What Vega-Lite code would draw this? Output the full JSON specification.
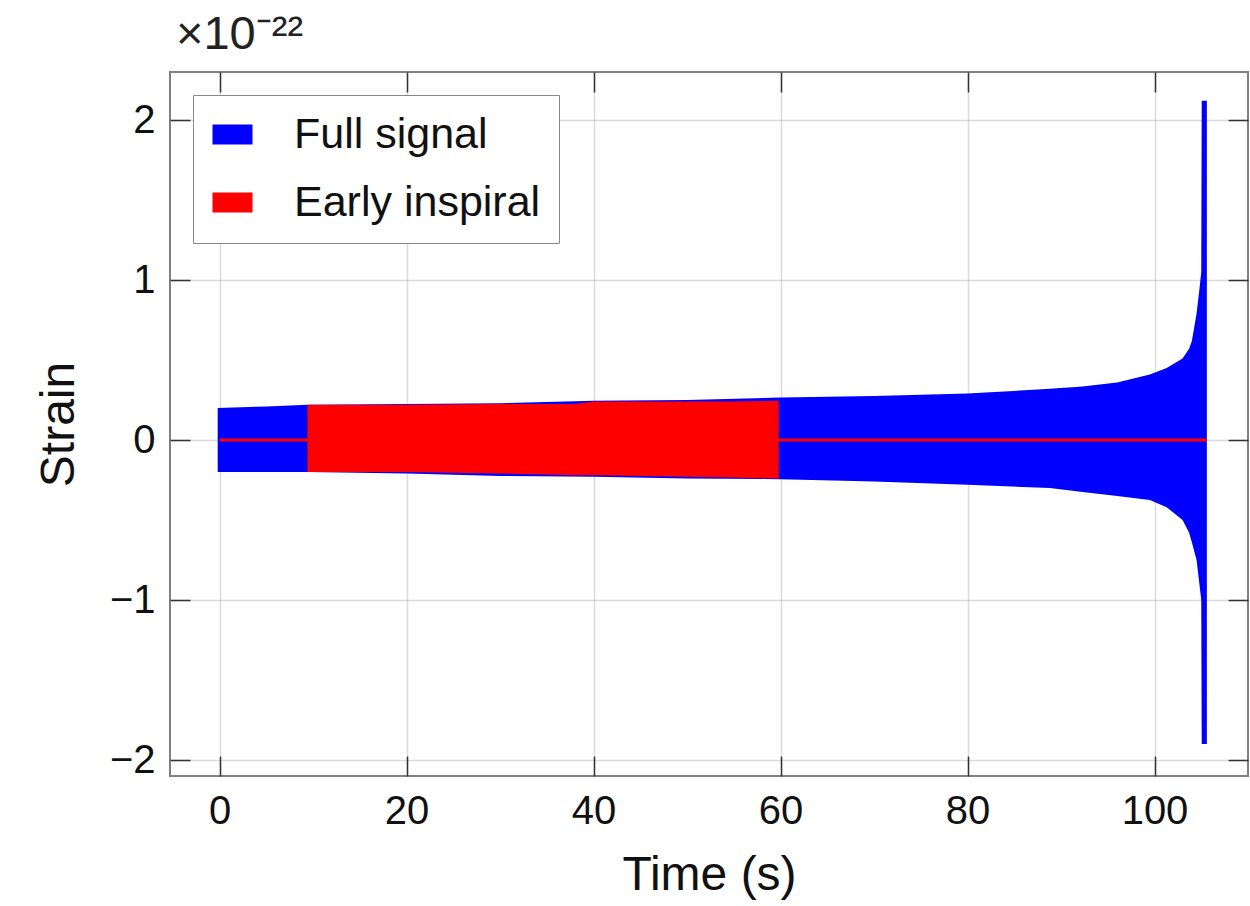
{
  "$schema": "https://vega.github.io/schema/vega-lite/v6.json",
  "width": 1078,
  "height": 704,
  "autosize": "none",
  "padding": {"left": 170, "top": 72, "right": 2, "bottom": 130},
  "background": "white",
  "title": {"text": "×10⁻²²", "anchor": "start", "frame": "group", "fontSize": 47, "font": "Liberation Sans", "fontWeight": "normal", "offset": 12, "dx": 6, "color": "#222"},
  "datasets": {
    "full": [
      {"t": -0.2, "hi": 0.2, "lo": -0.2, "series": "Full signal"},
      {"t": 5, "hi": 0.21, "lo": -0.2, "series": "Full signal"},
      {"t": 9.4, "hi": 0.22, "lo": -0.2, "series": "Full signal"},
      {"t": 20, "hi": 0.225, "lo": -0.21, "series": "Full signal"},
      {"t": 30, "hi": 0.23, "lo": -0.225, "series": "Full signal"},
      {"t": 40, "hi": 0.245, "lo": -0.23, "series": "Full signal"},
      {"t": 50, "hi": 0.25, "lo": -0.24, "series": "Full signal"},
      {"t": 60, "hi": 0.265, "lo": -0.245, "series": "Full signal"},
      {"t": 70, "hi": 0.275, "lo": -0.26, "series": "Full signal"},
      {"t": 80, "hi": 0.29, "lo": -0.28, "series": "Full signal"},
      {"t": 88.8, "hi": 0.32, "lo": -0.3, "series": "Full signal"},
      {"t": 92.3, "hi": 0.335, "lo": -0.325, "series": "Full signal"},
      {"t": 96, "hi": 0.36, "lo": -0.35, "series": "Full signal"},
      {"t": 99.5, "hi": 0.41, "lo": -0.375, "series": "Full signal"},
      {"t": 101.3, "hi": 0.45, "lo": -0.42, "series": "Full signal"},
      {"t": 103, "hi": 0.51, "lo": -0.5, "series": "Full signal"},
      {"t": 103.7, "hi": 0.57, "lo": -0.58, "series": "Full signal"},
      {"t": 104.0, "hi": 0.62, "lo": -0.64, "series": "Full signal"},
      {"t": 104.5, "hi": 0.79, "lo": -0.75, "series": "Full signal"},
      {"t": 104.8, "hi": 0.94, "lo": -0.9, "series": "Full signal"},
      {"t": 105.0, "hi": 1.05, "lo": -1.0, "series": "Full signal"},
      {"t": 105.05, "hi": 2.12, "lo": -1.9, "series": "Full signal"},
      {"t": 105.6, "hi": 2.12, "lo": -1.9, "series": "Full signal"}
    ],
    "early": [
      {"t": 9.4, "hi": 0.22, "lo": -0.2, "series": "Early inspiral"},
      {"t": 20, "hi": 0.22, "lo": -0.2, "series": "Early inspiral"},
      {"t": 29.7, "hi": 0.225, "lo": -0.21, "series": "Early inspiral"},
      {"t": 38, "hi": 0.225, "lo": -0.22, "series": "Early inspiral"},
      {"t": 40, "hi": 0.24, "lo": -0.22, "series": "Early inspiral"},
      {"t": 54.5, "hi": 0.24, "lo": -0.235, "series": "Early inspiral"},
      {"t": 59.8, "hi": 0.245, "lo": -0.24, "series": "Early inspiral"}
    ],
    "zeroline": [
      {"t0": 0, "t1": 105.6, "h": 0}
    ]
  },
  "config": {
    "font": "Liberation Sans",
    "view": {"stroke": "#808080", "strokeWidth": 2},
    "axis": {
      "domain": false,
      "ticks": true,
      "tickSize": -20,
      "tickColor": "#333",
      "tickWidth": 1.5,
      "labelFontSize": 40,
      "labelColor": "#111",
      "labelPadding": 35,
      "titleFontSize": 48,
      "titleFontWeight": "normal",
      "titleColor": "#111",
      "zindex": 1,
      "gridColor": "#999",
      "gridOpacity": 0.35,
      "gridWidth": 1.5
    }
  },
  "layer": [
    {
      "data": {"name": "full"},
      "mark": {"type": "area", "interpolate": "linear"},
      "encoding": {
        "x": {"field": "t", "type": "quantitative", "scale": {"domain": [-5.3, 110], "nice": false, "zero": false},
              "axis": {"orient": "bottom", "values": [0, 20, 40, 60, 80, 100], "title": "Time (s)", "grid": true, "titlePadding": 20}},
        "y": {"field": "hi", "type": "quantitative", "stack": null, "scale": {"domain": [-2.1, 2.3], "nice": false, "zero": false},
              "axis": {"orient": "left", "values": [-2, -1, 0, 1, 2], "title": "Strain", "grid": true, "titlePadding": 26}},
        "y2": {"field": "lo"},
        "color": {"field": "series", "type": "nominal",
                  "scale": {"domain": ["Full signal", "Early inspiral"], "range": ["#0000ff", "#ff0000"]},
                  "legend": {"title": null, "orient": "none", "legendX": 23, "legendY": 23,
                             "symbolType": "M-1,-0.5H1V0.5H-1Z", "symbolSize": 1600, "symbolStrokeWidth": 0,
                             "labelFontSize": 43, "labelColor": "#111", "labelOffset": 40, "labelLimit": 0, "rowPadding": 24,
                             "padding": 18, "strokeColor": "#888", "fillColor": "white", "cornerRadius": 0}}
      }
    },
    {
      "data": {"name": "early"},
      "mark": {"type": "area", "interpolate": "linear"},
      "encoding": {
        "x": {"field": "t", "type": "quantitative", "axis": null},
        "y": {"field": "hi", "type": "quantitative", "stack": null, "axis": null},
        "y2": {"field": "lo"},
        "color": {"field": "series", "type": "nominal"}
      }
    },
    {
      "data": {"name": "zeroline"},
      "mark": {"type": "rule", "color": "#ff0000", "strokeWidth": 3},
      "encoding": {
        "x": {"field": "t0", "type": "quantitative",
              "axis": {"orient": "top", "values": [0, 20, 40, 60, 80, 100], "labels": false, "title": null, "grid": false}},
        "x2": {"field": "t1"},
        "y": {"field": "h", "type": "quantitative",
              "axis": {"orient": "right", "values": [-2, -1, 0, 1, 2], "labels": false, "title": null, "grid": false}}
      }
    }
  ]
}
